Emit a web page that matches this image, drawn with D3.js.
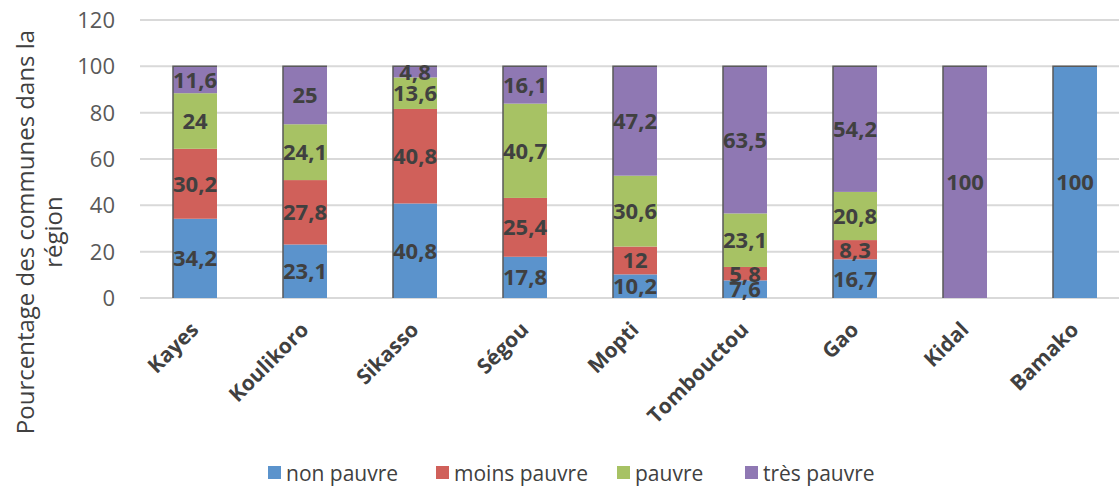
<!DOCTYPE html>
<html><head><meta charset="utf-8">
<script src="https://cdn.jsdelivr.net/npm/d3@7"></script>
<style>body{margin:0;background:#fff;} svg{display:block;font-family:"Open Sans",sans-serif;}</style>
</head><body><svg id="c" width="1119" height="488"></svg>
<script>
const categories = ["Kayes","Koulikoro","Sikasso","Ségou","Mopti","Tombouctou","Gao","Kidal","Bamako"];
const seriesNames = ["non pauvre","moins pauvre","pauvre","très pauvre"];
const nonPauvre   = [34.2, 23.1, 40.8, 17.8, 10.2, 7.6, 16.7, 0, 100];
const moinsPauvre = [30.2, 27.8, 40.8, 25.4, 12, 5.8, 8.3, 0, 0];
const pauvre      = [24, 24.1, 13.6, 40.7, 30.6, 23.1, 20.8, 0, 0];
const tresPauvre  = [11.6, 25, 4.8, 16.1, 47.2, 63.5, 54.2, 100, 0];
const yTicks = [0,20,40,60,80,100,120];
const colors = ["#5b93cc","#d0605a","#a7c264","#8f78b3"];

const seriesVals = [nonPauvre, moinsPauvre, pauvre, tresPauvre];
const rows = categories.map((c,i)=>{const r={cat:c}; seriesNames.forEach((s,j)=>r[s]=seriesVals[j][i]); return r;});
const stack = d3.stack().keys(seriesNames)(rows);

const svg = d3.select("#c");
const x = d3.scaleBand().domain(categories).range([140,1130]).paddingInner(0.6).paddingOuter(0.3);
const y = d3.scaleLinear().domain([0,120]).range([298,20]);

svg.append("g").selectAll("line").data(yTicks).join("line")
  .attr("x1",140).attr("x2",1119).attr("y1",d=>y(d)).attr("y2",d=>y(d))
  .attr("stroke","#d9d9d9").attr("stroke-width",2);

svg.append("g").selectAll("text").data(yTicks).join("text")
  .attr("x",115).attr("y",d=>y(d)).attr("dy","0.36em").attr("text-anchor","end")
  .attr("font-size",22).attr("fill","#595959").text(d=>d);

const g = svg.append("g");
stack.forEach((s,j)=>{
  g.append("g").selectAll("rect").data(s).join("rect")
    .attr("x",d=>x(d.data.cat)).attr("width",x.bandwidth())
    .attr("y",d=>y(d[1])).attr("height",d=>y(d[0])-y(d[1]))
    .attr("fill",colors[j]);
});
const totals = rows.map(r=>d3.sum(seriesNames,s=>r[s]));
svg.append("g").selectAll("path").data(categories).join("path")
  .attr("d",(c,i)=>`M${x(c)},${y(0)}V${y(totals[i])}H${x(c)+x.bandwidth()}`)
  .attr("fill","none").attr("stroke","#5a5a5a").attr("stroke-width",1.5);

stack.forEach((s,j)=>{
  svg.append("g").selectAll("text").data(s.filter(d=>d[1]-d[0]>0)).join("text")
    .attr("x",d=>x(d.data.cat)+x.bandwidth()/2)
    .attr("y",d=>(y(d[0])+y(d[1]))/2).attr("dy","0.36em")
    .attr("text-anchor","middle").attr("font-size",22).attr("font-weight","bold")
    .attr("fill","#404040").text(d=>String(+(d[1]-d[0]).toFixed(1)).replace(".",","));
});

svg.append("g").selectAll("text").data(categories).join("text")
  .attr("transform",c=>`translate(${x(c)+x.bandwidth()/2+5},${331}) rotate(-45)`)
  .attr("text-anchor","end").attr("font-size",21).attr("font-weight","bold")
  .attr("fill","#404040").text(c=>c);

const yt = svg.append("text").attr("transform","translate(34,232) rotate(-90)")
  .attr("text-anchor","middle").attr("font-size",24).attr("fill","#404040");
yt.append("tspan").attr("x",0).attr("dy",0).text("Pourcentage des communes dans la");
yt.append("tspan").attr("x",0).attr("dy",28).text("région");

const legX = [268,436,617,745];
const lg = svg.append("g");
seriesNames.forEach((s,j)=>{
  lg.append("rect").attr("x",legX[j]).attr("y",466).attr("width",13).attr("height",13).attr("fill",colors[j]);
  lg.append("text").attr("x",legX[j]+18).attr("y",481).attr("font-size",21).attr("fill","#404040").text(s);
});
</script></body></html>
